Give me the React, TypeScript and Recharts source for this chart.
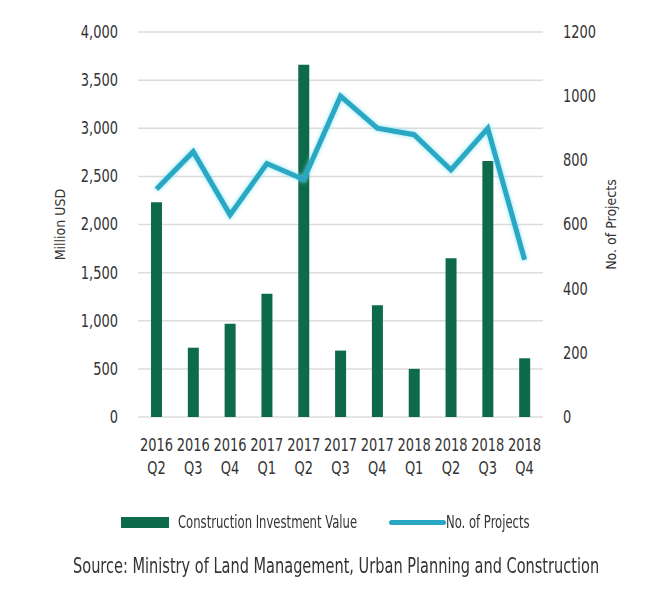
import React from "react";
import {
  ComposedChart, Bar, Line, XAxis, YAxis, CartesianGrid, Legend, Label,
} from "recharts";

const quarters = ["2016 Q2", "2016 Q3", "2016 Q4", "2017 Q1", "2017 Q2", "2017 Q3", "2017 Q4", "2018 Q1", "2018 Q2", "2018 Q3", "2018 Q4"];
const investment = [2230, 720, 970, 1280, 3660, 690, 1160, 500, 1650, 2660, 610];
const projects = [710, 827, 630, 790, 740, 1000, 900, 880, 770, 900, 490];
const leftTicks = [0, 500, 1000, 1500, 2000, 2500, 3000, 3500, 4000];
const rightTicks = [0, 200, 400, 600, 800, 1000, 1200];

const FONT = "'DejaVu Sans Condensed', 'DejaVu Sans', sans-serif";
const STRETCH = "condensed";
const SQUEEZE = 0.85;
const BAR_COLOR = "#0d6a4b";
const LINE_COLOR = "#2aa7c3";
const TEXT_COLOR = "#333";

const data = quarters.map((q, i) => ({ quarter: q, investment: investment[i], projects: projects[i] }));

function QuarterTick({ x, y, payload }: any) {
  const [year, q] = String(payload.value).split(" ");
  return (
    <g transform={`translate(${x},${y}) scale(${SQUEEZE},1)`}>
      <text textAnchor="middle" fill={TEXT_COLOR} fontSize={17} fontFamily={FONT} style={{ fontStretch: STRETCH }}>
        <tspan x={0} dy={26}>{year}</tspan>
        <tspan x={0} dy={23}>{q}</tspan>
      </text>
    </g>
  );
}

function ValueTick({ x, y, payload, textAnchor, fmt }: any) {
  const label = fmt ? fmt(payload.value) : String(payload.value);
  return (
    <text transform={`translate(${x},${y}) scale(${SQUEEZE},1)`} textAnchor={textAnchor} dominantBaseline="central"
      fill={TEXT_COLOR} fontSize={17} fontFamily={FONT} style={{ fontStretch: STRETCH }}>{label}</text>
  );
}

function AxisTitle({ viewBox, cx, value }: any) {
  const cy = viewBox.y + viewBox.height / 2;
  return (
    <text x={cx} y={cy} transform={`rotate(-90 ${cx} ${cy})`} textAnchor="middle" dominantBaseline="central"
      fill={TEXT_COLOR} fontSize={14} fontFamily={FONT} style={{ fontStretch: STRETCH }}>{value}</text>
  );
}

const squeezed = (left: number, scale: number): React.CSSProperties => ({
  position: "absolute", left, top: 0, transform: `scaleX(${scale})`, transformOrigin: "left center", whiteSpace: "nowrap",
});

function LegendContent() {
  return (
    <div style={{ position: "relative", height: 24, fontFamily: FONT, fontStretch: STRETCH, fontSize: 17, color: TEXT_COLOR, lineHeight: "24px" }}>
      <span style={{ position: "absolute", left: 121, top: 7, width: 48, height: 11, background: BAR_COLOR }} />
      <span style={squeezed(178, 0.76)}>Construction Investment Value</span>
      <span style={{ position: "absolute", left: 389, top: 10, width: 57, height: 5, borderRadius: 3, background: LINE_COLOR }} />
      <span style={squeezed(446, 0.76)}>No. of Projects</span>
    </div>
  );
}

export default function App() {
  return (
    <div style={{ position: "absolute", left: 0, top: 0, width: 660, height: 602, background: "#fff" }}>
      <ComposedChart width={660} height={602} data={data} margin={{ top: 32, right: 0, left: 0, bottom: 101 }}>
        <CartesianGrid yAxisId="left" vertical={false} stroke="#dcdcdc" strokeWidth={1.5} />
        <XAxis dataKey="quarter" axisLine={false} tickLine={false} tick={<QuarterTick />} height={60} interval={0} />
        <YAxis yAxisId="left" orientation="left" width={138} domain={[0, 4000]} ticks={leftTicks}
          axisLine={false} tickLine={false} tickSize={0} tickMargin={20}
          tick={<ValueTick fmt={(v: number) => v.toLocaleString("en-US")} />}>
          <Label content={(p: any) => <AxisTitle {...p} cx={60} value="Million USD" />} />
        </YAxis>
        <YAxis yAxisId="right" orientation="right" width={117} domain={[0, 1200]} ticks={rightTicks}
          axisLine={false} tickLine={false} tickSize={0} tickMargin={20}
          tick={<ValueTick />}>
          <Label content={(p: any) => <AxisTitle {...p} cx={611} value="No. of Projects" />} />
        </YAxis>
        <Bar yAxisId="left" dataKey="investment" name="Construction Investment Value" fill={BAR_COLOR} barSize={11} isAnimationActive={false} />
        <Line yAxisId="right" dataKey="projects" name="No. of Projects" type="linear" stroke={LINE_COLOR} strokeWidth={5}
          dot={false} activeDot={false} isAnimationActive={false}
          style={{ filter: "drop-shadow(0 0 2px rgba(120,225,245,0.9))" }} />
        <Legend content={<LegendContent />} wrapperStyle={{ position: "absolute", top: 510, left: 0, width: 660 }} />
      </ComposedChart>
      <div style={{ ...squeezed(73, 0.77), top: 554, fontFamily: FONT, fontStretch: STRETCH, fontSize: 21, color: TEXT_COLOR }}>
        Source: Ministry of Land Management, Urban Planning and Construction
      </div>
    </div>
  );
}
